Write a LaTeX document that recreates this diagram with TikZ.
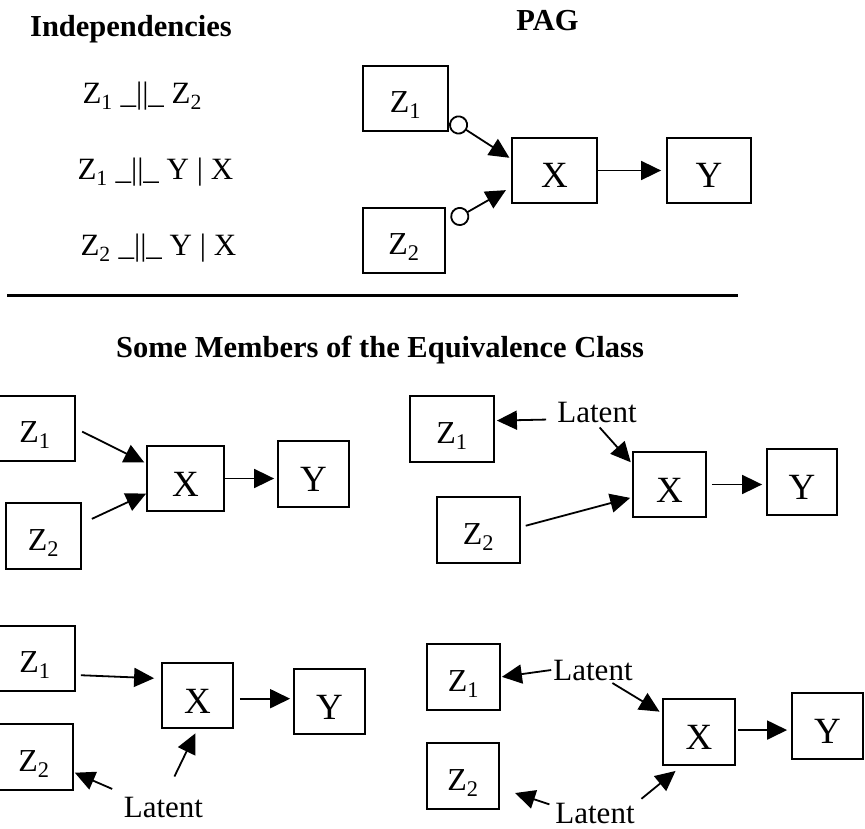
\documentclass[tikz,border=0pt]{standalone}
\usepackage{fontspec}
\setmainfont{Liberation Serif}
\usetikzlibrary{arrows.meta}

\tikzset{
  box/.style={draw, line width=1.8pt, inner sep=0pt, text height=28pt, text depth=0pt,
    font=\fontsize{32}{32}\selectfont},
  bigbox/.style={box, text height=35pt, font=\fontsize{37}{37}\selectfont},
  lat/.style={inner sep=2pt, anchor=base, font=\fontsize{31}{31}\selectfont},
  head/.style={anchor=base, font=\fontsize{30.5}{30.5}\selectfont\bfseries},
  indep/.style={anchor=base west, font=\fontsize{31}{31}\selectfont},
  arr/.style={line width=1.8pt, -{Triangle[length=20pt,width=19pt]}},
  pagarr/.style={line width=1.8pt, {Circle[length=19pt,fill=white]}-{Triangle[length=20pt,width=19pt]}}
}

\begin{document}
\begin{tikzpicture}[x=1pt,y=-1pt]
\useasboundingbox (0,0) rectangle (865,829);

\node[head] (indeptitle) at (131,37) {Independencies};
\node[head] (pagtitle) at (547.5,31) {PAG};
\foreach \x/\y/\txt in {79/104/{Z\textsubscript{1} \_||\_ Z\textsubscript{2}},
                        74/180/{Z\textsubscript{1} \_||\_ Y | X},
                        77/256/{Z\textsubscript{2} \_||\_ Y | X}}
   \node[indep] (indep\y) at (\x,\y) {\txt};

% PAG
\node[box, minimum width=85pt, minimum height=65pt] (z1p) at (405.5,98.5) {Z\textsubscript{1}};
\node[box, minimum width=82pt, minimum height=65pt] (z2p) at (404,240.5) {Z\textsubscript{2}};
\node[bigbox, minimum width=85pt, minimum height=65pt] (xp) at (554.5,170.5) {X};
\node[bigbox, minimum width=84pt, minimum height=65pt] (yp) at (709,170.5) {Y};
\draw[pagarr, shorten <=2pt, shorten >=2pt] (z1p.-25) -- (xp.165);
\draw[pagarr, shorten <=6.5pt, shorten >=6pt] (z2p.21) -- (xp.201);
\draw[arr, shorten >=5pt] (xp.east) -- (yp.west);

\draw[line width=2.4pt] (7,295.5) -- (738,295.5);
\node[head] (memtitle) at (380,357) {Some Members of the Equivalence Class};

% member 1
\node[box, minimum width=80pt, minimum height=65pt] (z1a) at (35,428.5) {Z\textsubscript{1}};
\node[box, minimum width=75pt, minimum height=66pt] (z2a) at (43.5,536) {Z\textsubscript{2}};
\node[bigbox, minimum width=77pt, minimum height=65pt] (xa) at (185.5,478.5) {X};
\node[bigbox, minimum width=71pt, minimum height=66pt] (ya) at (313.5,474) {Y};
\draw[arr, shorten <=7pt, shorten >=2pt] (z1a.east) -- (xa.159);
\draw[arr, shorten <=11pt] (z2a.18) -- (xa.201);
\draw[arr, shorten >=3pt] (xa.east) -- (xa.east -| ya.west);

% member 2
\node[box, minimum width=84pt, minimum height=66pt] (z1b) at (452,429) {Z\textsubscript{1}};
\node[box, minimum width=83pt, minimum height=66pt] (z2b) at (478.5,530) {Z\textsubscript{2}};
\node[bigbox, minimum width=73pt, minimum height=65pt] (xb) at (669.5,484.5) {X};
\node[bigbox, minimum width=70pt, minimum height=66pt] (yb) at (802,482) {Y};
\node[lat] (latb) at (597,422) {Latent};
\draw[arr, shorten <=9pt, shorten >=2pt] (latb.190) -- (z1b.11);
\draw[arr, shorten <=4pt, shorten >=2pt] (latb.south) -- (xb.151);
\draw[arr, shorten <=5pt, shorten >=2pt] (z2b.4) -- (xb.199);
\draw[arr, shorten <=5pt, shorten >=4pt] (xb.east) -- (xb.east -| yb.west);

% member 3
\node[box, minimum width=80pt, minimum height=65pt] (z1c) at (35,658.5) {Z\textsubscript{1}};
\node[box, minimum width=78pt, minimum height=66pt] (z2c) at (34,757) {Z\textsubscript{2}};
\node[bigbox, minimum width=71pt, minimum height=65pt] (xc) at (197.5,695.5) {X};
\node[bigbox, minimum width=71pt, minimum height=65pt] (yc) at (329.5,701.5) {Y};
\node[lat] (latc) at (163.5,817) {Latent};
\draw[arr, shorten <=5pt, shorten >=7pt] (z1c.-22) -- (xc.155);
\draw[arr, shorten <=6pt, shorten >=3pt] (xc.-5) -- (xc.-5 -| yc.west);
\draw[arr, shorten <=14pt, shorten >=1pt] (latc.162) -- (z2c.-21);
\draw[arr, shorten <=20pt, shorten >=5pt] (latc.80) -- (xc.south);

% member 4
\node[box, minimum width=73pt, minimum height=66pt] (z1d) at (463.5,677) {Z\textsubscript{1}};
\node[box, minimum width=72pt, minimum height=66pt] (z2d) at (463,776) {Z\textsubscript{2}};
\node[bigbox, minimum width=72pt, minimum height=66pt] (xd) at (699,732) {X};
\node[bigbox, minimum width=71pt, minimum height=66pt] (yd) at (827.5,726) {Y};
\node[lat] (latd1) at (593,680) {Latent};
\node[lat] (latd2) at (595,823) {Latent};
\draw[arr, shorten >=1pt] (latd1.west) -- (z1d.east);
\draw[arr, shorten <=1pt, shorten >=3pt] (latd1.-34) -- (xd.153);
\draw[arr, shorten <=4pt, shorten >=16pt] (latd2.170) -- (z2d.-18);
\draw[arr, shorten <=6pt, shorten >=8pt] (latd2.14) -- (xd.-117);
\draw[arr, shorten <=2pt, shorten >=4pt] (xd.3) -- (xd.3 -| yd.west);
\end{tikzpicture}
\end{document}
